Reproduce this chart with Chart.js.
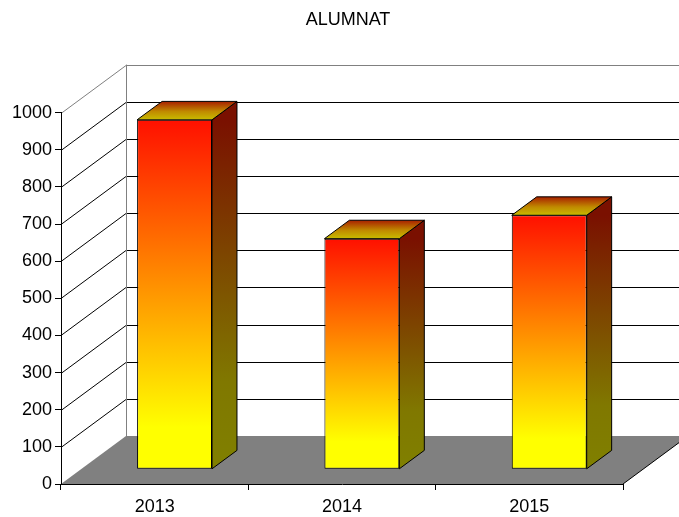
<!DOCTYPE html>
<html>
<head>
<meta charset="utf-8">
<script src="https://cdn.jsdelivr.net/npm/chart.js@4/dist/chart.umd.min.js"></script>
<style>
  html, body { margin: 0; padding: 0; background: #fff; }
  #wrap { width: 679px; height: 517px; }
</style>
</head>
<body>
<div id="wrap"><canvas id="alumnatChart"></canvas></div>
<script>
// Chart data
const years = ['2013', '2014', '2015'];
const alumnat = [941, 621, 684];
const yTicks = [0, 100, 200, 300, 400, 500, 600, 700, 800, 900, 1000];

// fake 3D: depth of the box (back wall offset) and where the bars sit in it
const DEPTH_X = 65, DEPTH_Y = -48;
const BAR_FRONT = 0.306, BAR_BACK = 0.69;

function line(ctx, x1, y1, x2, y2, color) {
    ctx.beginPath();
    ctx.moveTo(x1, y1);
    ctx.lineTo(x2, y2);
    ctx.strokeStyle = color;
    ctx.lineWidth = 1;
    ctx.stroke();
}

// walls, floor and gridlines, drawn before the axes
const walls3d = {
    id: 'walls3d',
    beforeDraw(chart) {
        const ctx = chart.ctx;
        const xs = chart.scales.x, ys = chart.scales.y;
        const left = xs.left, right = xs.right;
        const y0 = ys.getPixelForValue(yTicks[0]);
        const yMax = ys.getPixelForValue(yTicks[yTicks.length - 1]);
        ctx.save();
        ctx.fillStyle = '#fff';
        ctx.fillRect(0, 0, chart.width, chart.height);

        // gridlines on side wall and back wall
        yTicks.forEach((v, i) => {
            if (i === 0) return;
            const y = Math.round(ys.getPixelForValue(v)) + 0.5;
            const col = (i === yTicks.length - 1) ? '#808080' : '#000';
            line(ctx, left, y, left + DEPTH_X, y + DEPTH_Y, col);
            line(ctx, left + DEPTH_X, y + DEPTH_Y, right + DEPTH_X, y + DEPTH_Y, col);
        });
        // back wall left edge
        line(ctx, left + DEPTH_X + 0.5, yMax + DEPTH_Y, left + DEPTH_X + 0.5, y0 + DEPTH_Y, '#808080');

        // floor
        ctx.beginPath();
        ctx.moveTo(left, y0);
        ctx.lineTo(right, y0);
        ctx.lineTo(right + DEPTH_X, y0 + DEPTH_Y);
        ctx.lineTo(left + DEPTH_X, y0 + DEPTH_Y);
        ctx.closePath();
        ctx.fillStyle = '#808080';
        ctx.fill();
        line(ctx, right, y0, right + DEPTH_X, y0 + DEPTH_Y, '#000');
        ctx.restore();
    },
    // push the bars back into the box, then add their side and top faces
    beforeDatasetsDraw(chart) {
        chart.ctx.save();
        chart.ctx.translate(DEPTH_X * BAR_FRONT, DEPTH_Y * BAR_FRONT);
    },
    afterDatasetsDraw(chart) {
        const ctx = chart.ctx;
        const dx = DEPTH_X * (BAR_BACK - BAR_FRONT);
        const dy = DEPTH_Y * (BAR_BACK - BAR_FRONT);
        chart.getDatasetMeta(0).data.forEach(bar => {
            const xl = bar.x - bar.width / 2, xr = bar.x + bar.width / 2;
            const top = bar.y, bot = bar.base;
            if (!isFinite(top) || !isFinite(bot)) return;
            ctx.lineWidth = 1;
            ctx.strokeStyle = '#000';
            ctx.lineJoin = 'round';

            // right side
            let g = ctx.createLinearGradient(0, top, 0, bot);
            g.addColorStop(0, '#7a1000');
            g.addColorStop(0.75, '#807800');
            g.addColorStop(1, '#808000');
            ctx.beginPath();
            ctx.moveTo(xr, top);
            ctx.lineTo(xr + dx, top + dy);
            ctx.lineTo(xr + dx, bot + dy);
            ctx.lineTo(xr, bot);
            ctx.closePath();
            ctx.fillStyle = g;
            ctx.fill();
            ctx.stroke();

            // top
            g = ctx.createLinearGradient(0, top + dy, 0, top);
            g.addColorStop(0, '#a82000');
            g.addColorStop(0.55, '#c08a00');
            g.addColorStop(1, '#c8bc00');
            ctx.beginPath();
            ctx.moveTo(xl, top);
            ctx.lineTo(xr, top);
            ctx.lineTo(xr + dx, top + dy);
            ctx.lineTo(xl + dx, top + dy);
            ctx.closePath();
            ctx.fillStyle = g;
            ctx.fill();
            ctx.stroke();
        });
        ctx.restore();
    },
    afterLayout(chart) {
        // title sits a bit right of the page centre
        if (chart.titleBlock) {
            chart.titleBlock.left = 73;
        }
    }
};

const ctx = document.getElementById('alumnatChart').getContext('2d');
const alumnatChart = new Chart(ctx, {
    type: 'bar',
    data: {
        labels: years,
        datasets: [{
            label: 'ALUMNAT',
            data: alumnat,
            backgroundColor: function(c) {
                const ys = c.chart.scales.y;
                if (!ys || c.dataIndex === undefined) return '#ff8000';
                const top = ys.getPixelForValue(alumnat[c.dataIndex]);
                const bot = ys.getPixelForValue(0);
                if (!isFinite(top) || !isFinite(bot) || top === bot) return '#ff8000';
                const g = c.chart.ctx.createLinearGradient(0, top, 0, bot);
                g.addColorStop(0, '#ff1000');
                g.addColorStop(0.88, '#ffff00');
                g.addColorStop(1, '#ffff00');
                return g;
            },
            borderColor: '#000',
            borderWidth: 1,
            borderSkipped: false,
            barPercentage: 0.4,
            categoryPercentage: 1.0,
            clip: false
        }]
    },
    options: {
        responsive: true,
        maintainAspectRatio: false,
        animation: false,
        layout: { padding: { top: 0, left: 0, right: 56, bottom: 0 } },
        plugins: {
            legend: { display: false },
            tooltip: { enabled: false },
            title: {
                display: true,
                text: 'ALUMNAT',
                color: '#000',
                font: { family: 'Liberation Sans', size: 18, weight: 'normal', lineHeight: 1.2 },
                padding: { top: 9, bottom: 82 }
            }
        },
        scales: {
            x: {
                offset: true,
                grid: { offset: true, drawOnChartArea: false, drawTicks: true, tickLength: 6, color: '#000' },
                border: { display: true, color: '#000' },
                ticks: { color: '#000', padding: 6, font: { family: 'Liberation Sans', size: 18 } },
                afterFit(scale) { scale.height = 33; }
            },
            y: {
                min: 0,
                max: 1000,
                grid: { drawOnChartArea: false, drawTicks: true, tickLength: 6, color: '#000' },
                border: { display: true, color: '#000' },
                ticks: {
                    stepSize: 100,
                    color: '#000',
                    padding: 3,
                    font: { family: 'Liberation Sans', size: 18 },
                    callback: (value) => String(value)
                },
                afterFit(scale) { scale.width = 61; }
            }
        }
    },
    plugins: [walls3d]
});
</script>
</body>
</html>
